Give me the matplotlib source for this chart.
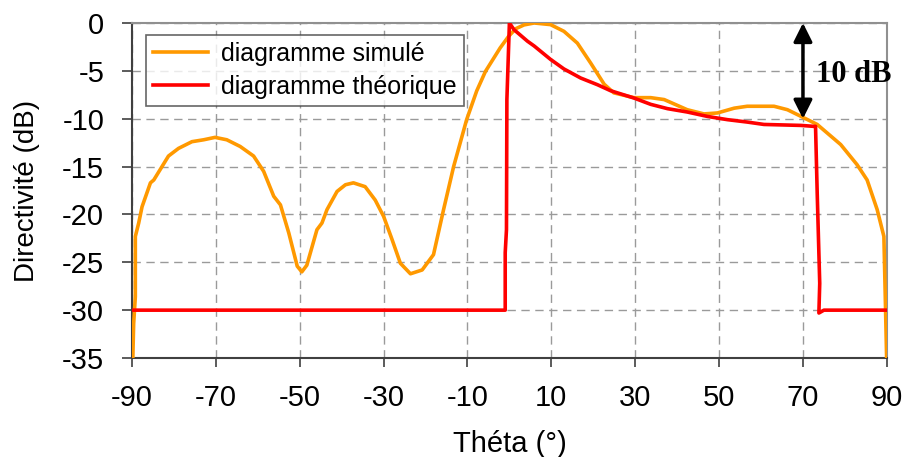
import matplotlib
matplotlib.use("Agg")
import matplotlib.pyplot as plt

sim_theta = [-89.8, -89.6, -89.2, -89.2, -88.4, -87.6, -85.6, -84.8, -81.3, -78.9, -75.7, -72.9,
             -70.2, -67.4, -64.2, -61.0, -58.6, -56.2, -54.6, -52.6, -50.6, -49.5, -48.3, -45.9,
             -44.7, -43.5, -41.1, -39.1, -37.2, -34.4, -32.0, -30.0, -28.0, -26.0, -23.6, -20.8,
             -18.1, -15.7, -13.3, -10.2, -7.8, -5.7, -2.2, -0.2, 1.5, 3.5, 5.9, 9.8, 13.0, 16.2,
             19.4, 22.6, 24.9, 29.7, 33.7, 36.9, 42.4, 46.4, 49.6, 53.6, 56.7, 63.1, 66.3, 69.5,
             73.4, 75.8, 79.0, 82.9, 85.3, 87.7, 89.3, 89.7, 89.95]
sim_db = [-35, -31.4, -28.6, -22.3, -20.9, -19.2, -16.7, -16.4, -13.9, -13.1, -12.4, -12.2,
          -11.95, -12.2, -12.9, -13.9, -15.5, -18.1, -19.0, -21.95, -25.4, -26.0, -25.3, -21.6,
          -20.9, -19.5, -17.6, -16.9, -16.7, -17.1, -18.5, -20.2, -22.6, -25.1, -26.2, -25.8,
          -24.2, -19.5, -15.0, -10.1, -7.1, -5.05, -2.6, -1.4, -0.6, -0.2, 0.0, -0.17, -0.87, -2.1,
          -4.2, -6.4, -7.3, -7.8, -7.8, -8.0, -9.06, -9.5, -9.4, -8.9, -8.7, -8.7, -9.06, -9.75,
          -10.6, -11.5, -12.7, -14.8, -16.4, -19.5, -22.3, -30, -35]

th_theta = [-90, -1.0, -1.0, -0.7, -0.6, 0.0, 1.1, 4.3, 5.9, 9.8, 13.0, 17.0, 21.0, 24.1, 29.7,
            33.7, 37.7, 42.4, 47.2, 52.0, 56.7, 60.7, 69.5, 72.6, 73.0, 73.4, 74.0, 73.8, 75.0, 90]
th_db = [-30, -30, -24, -21.6, -8.0, 0, -0.7, -1.9, -2.4, -3.8, -4.8, -5.75, -6.45, -7.07, -7.84,
         -8.5, -8.95, -9.3, -9.76, -10.1, -10.35, -10.6, -10.7, -10.8, -10.8, -17.8, -27.2, -30.3, -30, -30]

x_ticks = [-90, -70, -50, -30, -10, 10, 30, 50, 70, 90]
y_ticks = [0, -5, -10, -15, -20, -25, -30, -35]

plt.rcParams['font.family'] = ['Liberation Sans', 'DejaVu Sans']
plt.rcParams['axes.unicode_minus'] = False

fig = plt.figure(figsize=(9.04, 4.57), dpi=100)
ax = fig.add_axes([0.146, 0.2166, 0.835, 0.7331])

ax.plot(sim_theta, sim_db, color='#FF9900', lw=2.6, label='diagramme simulé', zorder=3)
ax.plot(th_theta, th_db, color='#FF0000', lw=2.6, label='diagramme théorique', zorder=4)

ax.set_xlim(-90, 90)
ax.set_ylim(-35, 0)
ax.set_xticks(x_ticks)
ax.set_yticks(y_ticks)
ax.tick_params(axis='both', labelsize=21, direction='out', color='#404040')
ax.tick_params(axis='x', length=6.5, width=1.2, pad=12.5)
ax.tick_params(axis='y', length=7, width=1.2, pad=13)
ax.grid(True, color='#9a9a9a', linestyle=(0, (6, 4)), linewidth=1.0)
ax.set_axisbelow(True)

for s in ['left', 'bottom']:
    ax.spines[s].set_color('#404040')
    ax.spines[s].set_linewidth(1.5)
for s in ['top', 'right']:
    ax.spines[s].set_color('#909090')
    ax.spines[s].set_linewidth(1.5)

ax.set_xlabel('Théta (°)', fontsize=21, labelpad=13)
ax.set_ylabel('Directivité (dB)', fontsize=20, labelpad=16)

leg = ax.legend(loc='upper left', bbox_to_anchor=(0.018, 0.965), fontsize=18, frameon=True,
                fancybox=False, edgecolor='#404040', handlelength=2.2, handletextpad=0.5,
                borderpad=0.3, labelspacing=0.35, borderaxespad=0)
leg.get_frame().set_linewidth(1.2)

ax.annotate('', xy=(70, -10), xytext=(70, 0),
            arrowprops=dict(arrowstyle='<|-|>', color='black', lw=2.5, mutation_scale=28,
                            shrinkA=0, shrinkB=0), zorder=5)
ax.text(73, -5.4, '10 dB', fontsize=22, fontweight='bold', family='Liberation Serif',
        va='center', ha='left', zorder=6)

fig.savefig('out.png', dpi=100)
